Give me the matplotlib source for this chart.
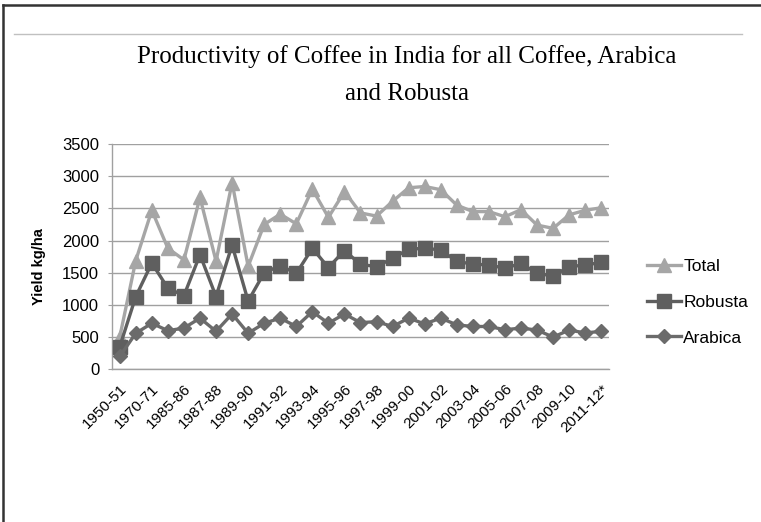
import matplotlib
matplotlib.use("Agg")
import matplotlib.pyplot as plt
from matplotlib.lines import Line2D

years = ["1950-51", "1960-61", "1970-71", "1980-81", "1985-86", "1986-87", "1987-88",
         "1988-89", "1989-90", "1990-91", "1991-92", "1992-93", "1993-94", "1994-95",
         "1995-96", "1996-97", "1997-98", "1998-99", "1999-00", "2000-01", "2001-02",
         "2002-03", "2003-04", "2004-05", "2005-06", "2006-07", "2007-08", "2008-09",
         "2009-10", "2010-11", "2011-12*"]
total = [500, 1690, 2470, 1880, 1700, 2670, 1680, 2900, 1600, 2250, 2410, 2260, 2800,
         2360, 2760, 2430, 2380, 2610, 2820, 2840, 2790, 2550, 2450, 2450, 2370, 2480,
         2240, 2190, 2400, 2470, 2510]
robusta = [350, 1130, 1650, 1260, 1145, 1780, 1130, 1930, 1060, 1500, 1610, 1490, 1880,
           1580, 1845, 1630, 1595, 1725, 1865, 1880, 1855, 1675, 1635, 1620, 1570, 1645,
           1490, 1450, 1595, 1620, 1660]
arabica = [200, 560, 715, 600, 640, 795, 590, 860, 560, 715, 795, 665, 895, 715, 860,
           725, 740, 665, 795, 705, 795, 690, 665, 665, 615, 640, 610, 500, 610, 565, 590]
yticks = [0, 500, 1000, 1500, 2000, 2500, 3000, 3500]

sans = "Liberation Sans"
serif = "Liberation Serif"

fig = plt.figure(figsize=(7.61, 5.22), dpi=100)
fig.patch.set_facecolor("white")

# border and header line
fig.add_artist(Line2D([3/761, 3/761], [0, 1 - 5/522], transform=fig.transFigure, color="#333333", lw=1.8))
fig.add_artist(Line2D([3/761, 1], [1 - 5/522, 1 - 5/522], transform=fig.transFigure, color="#333333", lw=1.8))
fig.add_artist(Line2D([14/761, 742/761], [1 - 34/522, 1 - 34/522], transform=fig.transFigure, color="#c0c0c0", lw=1.0))

ax = fig.add_axes([111.7/761, 1 - 369.3/522, (609.3 - 111.7)/761, 225.3/522])
x = list(range(len(years)))
c_total, c_rob, c_ara = "#a6a6a6", "#5f5f5f", "#6b6b6b"
ax.plot(x, total, color=c_total, lw=2.4, marker="^", ms=10.5, label="Total", zorder=3)
ax.plot(x, robusta, color=c_rob, lw=2.4, marker="s", ms=10, label="Robusta", zorder=4)
ax.plot(x, arabica, color=c_ara, lw=2.4, marker="D", ms=7.5, label="Arabica", zorder=5)

ax.set_xlim(-0.5, len(years) - 0.5)
ax.set_ylim(0, 3500)
ax.set_yticks(yticks)
ax.set_yticklabels([str(v) for v in yticks], fontfamily=sans, fontsize=12)
ax.set_xticks(x[::2])
ax.set_xticklabels(years[::2], rotation=45, ha="right", rotation_mode="anchor",
                   fontfamily=sans, fontsize=11)
ax.tick_params(axis="x", length=0, pad=9)
ax.tick_params(axis="y", length=3, color="#a0a0a0", pad=6)
ax.grid(axis="y", color="#a0a0a0", lw=1.0)
ax.set_axisbelow(True)
for s in ["top", "right"]:
    ax.spines[s].set_visible(False)
for s in ["left", "bottom"]:
    ax.spines[s].set_color("#a0a0a0")
    ax.spines[s].set_linewidth(1.0)
ax.set_ylabel("Yield kg/ha", fontfamily=sans, fontweight="bold", fontsize=10.5)
ax.yaxis.set_label_coords(-0.132, 0.458)

fig.text(407/761, 1 - 57/522, "Productivity of Coffee in India for all Coffee, Arabica",
         ha="center", va="center", fontfamily=serif, fontsize=18)
fig.text(407/761, 1 - 94/522, "and Robusta", ha="center", va="center", fontfamily=serif, fontsize=18)

leg = fig.legend(handles=ax.get_lines(), loc="center left",
                 bbox_to_anchor=(638/761, 1 - 302/522), frameon=False,
                 prop={"family": sans, "size": 12.5}, handlelength=1.95, labelspacing=1.2,
                 handletextpad=0.15, borderpad=0)

fig.savefig("out.png", dpi=100)
